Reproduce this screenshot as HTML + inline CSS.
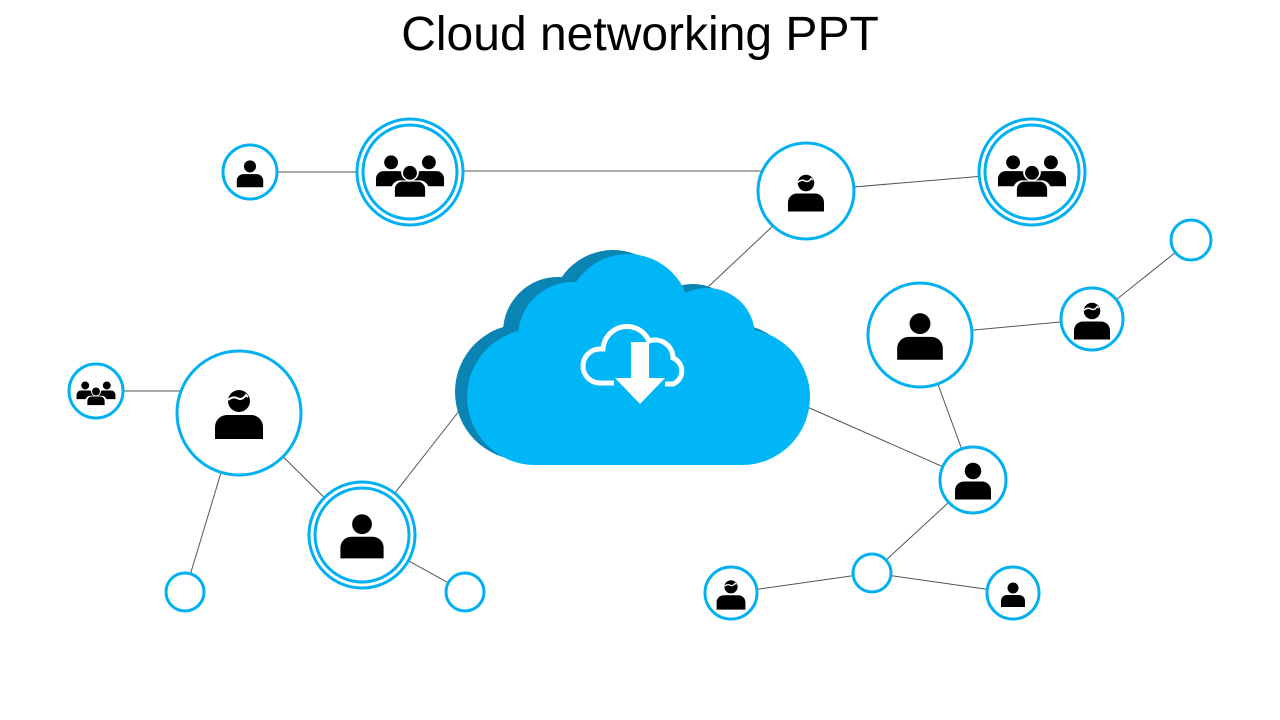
<!DOCTYPE html>
<html><head><meta charset="utf-8"><style>
html,body{margin:0;padding:0;background:#fff;}
body{width:1280px;height:720px;overflow:hidden;position:relative;font-family:"Liberation Sans",sans-serif;}
h1{position:absolute;top:7px;left:0;width:1280px;text-align:center;margin:0;font-weight:normal;font-size:48px;color:#000;}
</style></head><body>
<h1>Cloud networking PPT</h1>
<svg width="1280" height="720" style="position:absolute;left:0;top:0">
<defs>
<g id="p"><circle cx="0" cy="-12" r="11"/><path d="M-24,26 v-12 a12,12 0 0 1 12,-12 h24 a12,12 0 0 1 12,12 v12 z"/></g>
<g id="ph"><use href="#p"/><path d="M-11,-13 q5,-4 9,-2 q5,3 9,-3 l2,2" stroke="#fff" stroke-width="2" fill="none"/></g>
<g id="g3"><use href="#p" transform="translate(-18,-2) scale(0.6)"/><use href="#p" transform="translate(18,-2) scale(0.6)"/><g transform="translate(0,8) scale(0.65)"><circle cx="0" cy="-12" r="13" fill="#fff"/><path d="M-28,28 v-14 a14,14 0 0 1 14,-14 h28 a14,14 0 0 1 14,14 v14 z" fill="#fff"/></g><use href="#p" transform="translate(0,8) scale(0.6)"/></g>
</defs>
<g stroke="#555" stroke-width="1">
<line x1="250" y1="172" x2="410" y2="172"/>
<line x1="410" y1="171" x2="806" y2="171"/>
<line x1="806" y1="191" x2="1032" y2="172"/>
<line x1="775" y1="224" x2="708" y2="287"/>
<line x1="1191" y1="240" x2="1092" y2="319"/>
<line x1="1092" y1="319" x2="920" y2="335"/>
<line x1="920" y1="335" x2="973" y2="480"/>
<line x1="805" y1="406" x2="973" y2="480"/>
<line x1="973" y1="480" x2="872" y2="573"/>
<line x1="872" y1="573" x2="731" y2="593"/>
<line x1="872" y1="573" x2="1013" y2="593"/>
<line x1="96" y1="391" x2="239" y2="391"/>
<line x1="239" y1="413" x2="362" y2="535"/>
<line x1="239" y1="413" x2="185" y2="592"/>
<line x1="362" y1="535" x2="463" y2="406"/>
<line x1="362" y1="535" x2="465" y2="592"/>
</g>
<g fill="#fff" stroke="#00B0F0" stroke-width="3">
<circle cx="250" cy="172" r="27"/>
<circle cx="410" cy="172" r="53"/><circle cx="410" cy="172" r="47"/>
<circle cx="806" cy="191" r="48"/>
<circle cx="1032" cy="172" r="53"/><circle cx="1032" cy="172" r="47"/>
<circle cx="1191" cy="240" r="20"/>
<circle cx="1092" cy="319" r="31"/>
<circle cx="920" cy="335" r="52"/>
<circle cx="973" cy="480" r="33"/>
<circle cx="872" cy="573" r="19"/>
<circle cx="731" cy="593" r="26"/>
<circle cx="1013" cy="593" r="26"/>
<circle cx="96" cy="391" r="27"/>
<circle cx="239" cy="413" r="62"/>
<circle cx="362" cy="535" r="53"/><circle cx="362" cy="535" r="47"/>
<circle cx="185" cy="592" r="19"/>
<circle cx="465" cy="592" r="19"/>
</g>
<g fill="#000">
<use href="#p" transform="translate(250,173) scale(0.55)"/>
<use href="#g3" transform="translate(410,172) scale(1.05)"/>
<use href="#ph" transform="translate(806,192) scale(0.75)"/>
<use href="#g3" transform="translate(1032,172) scale(1.05)"/>
<use href="#ph" transform="translate(1092,320) scale(0.75)"/>
<use href="#p" transform="translate(920,335) scale(0.95)"/>
<use href="#p" transform="translate(973,480) scale(0.75)"/>
<use href="#ph" transform="translate(731,594) scale(0.6)"/>
<use href="#p" transform="translate(1013,594) scale(0.5)"/>
<use href="#g3" transform="translate(96,391) scale(0.6)"/>
<use href="#ph" transform="translate(239,413)"/>
<use href="#p" transform="translate(362,535) scale(0.9)"/>
</g>
<g fill="#0A84B3" transform="translate(-12,-3)">
<circle cx="535" cy="395" r="68"/><circle cx="570" cy="335" r="55"/><circle cx="625" cy="315" r="62"/><circle cx="705" cy="335" r="48"/><circle cx="745" cy="395" r="68"/><rect x="535" y="360" width="210" height="103"/>
</g>
<g fill="#00B6F6">
<circle cx="535" cy="397" r="68"/><circle cx="573" cy="337" r="55"/><circle cx="628" cy="316" r="62"/><circle cx="707" cy="336" r="48"/><circle cx="742" cy="397" r="68"/><rect x="535" y="360" width="207" height="105"/>
</g>
<g fill="none" stroke="#fff" stroke-width="5">
<path d="M614,383 h-14 a17,17 0 0 1 0,-34 h3 a24,24 0 0 1 46,-8 a18,18 0 0 1 24,17 a14,14 0 0 1 0,26 h-8"/>
</g>
<path d="M631,342 h18 v36 h16 l-25,26 l-25,-26 h16 z" fill="#fff"/>
</svg>
</body></html>
